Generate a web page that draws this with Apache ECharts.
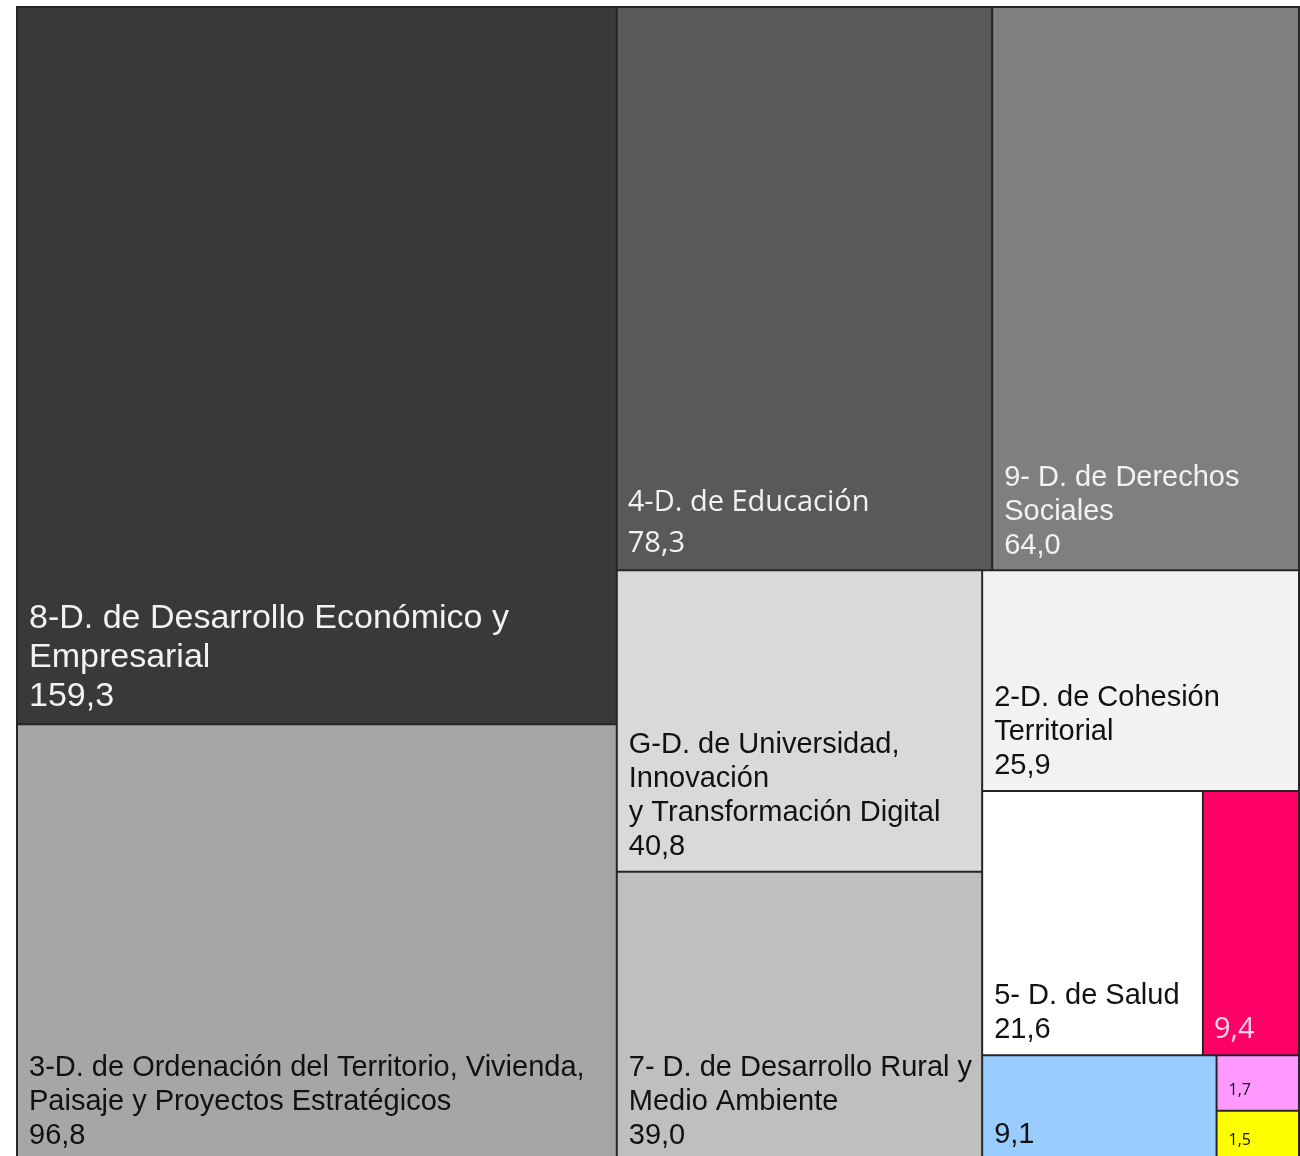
<!DOCTYPE html>
<html><head><meta charset="utf-8">
<script src="https://cdn.jsdelivr.net/npm/echarts@6/dist/echarts.min.js"></script>
<style>html,body{margin:0;padding:0;background:#fff}#c{width:1300px;height:1156px}</style>
</head><body><div id="c"></div>
<script>
// ---- data ----
const names = [
  '8-D. de Desarrollo Económico y\nEmpresarial',
  '3-D. de Ordenación del Territorio, Vivienda,\nPaisaje y Proyectos Estratégicos',
  '4-D. de Educación',
  '9- D. de Derechos\nSociales',
  'G-D. de Universidad,\nInnovación\ny Transformación Digital',
  '7- D. de Desarrollo Rural y\nMedio Ambiente',
  '2-D. de Cohesión\nTerritorial',
  '5- D. de Salud',
  '',
  '',
  '',
  ''
];
const values = [159.3, 96.8, 78.3, 64.0, 40.8, 39.0, 25.9, 21.6, 9.4, 9.1, 1.7, 1.5];
const fillColors = ['#3a3938', '#a6a6a6', '#595959', '#7f7f7f', '#d9d9d9', '#bfbfbf',
                    '#f2f2f2', '#ffffff', '#ff0066', '#99ccff', '#ff99ff', '#ffff00'];
const labelColors = ['#f2f2f2', '#111111', '#f2f2f2', '#f2f2f2', '#111111', '#111111',
                     '#111111', '#111111', '#ffd6e6', '#111111', '#111111', '#111111'];
// indices of items that sit side by side in one strip, as in the reference
const pairGroup = [7, 8];

// ---- styles ----
const ARIAL = 'Liberation Sans, Arial, sans-serif';
const OPEN = 'Open Sans, sans-serif';
function labelStyle(i) {
  let s = { fontFamily: ARIAL, fontSize: 29, lineHeight: 34, padding: [0, 0, 7, 11] };
  if (i === 0) s = { fontFamily: ARIAL, fontSize: 34, lineHeight: 39, padding: [0, 0, 7, 11] };
  if (i === 1 || i === 5) s.padding = [0, 0, 6, 11];
  if (i === 2) s = { fontFamily: OPEN, fontSize: 29, lineHeight: 41, padding: [0, 0, 5, 10] };
  if (i === 3) s.padding = [0, 0, 6, 11];
  if (i === 8) s = { fontFamily: OPEN, fontSize: 29, lineHeight: 36, padding: [0, 0, 6, 10] };
  if (i === 10 || i === 11) s = { fontFamily: OPEN, fontSize: 16, lineHeight: 20, padding: [0, 0, 9, 11] };
  return s;
}
const fmt = v => v.toFixed(1).replace('.', ',');

function leaf(i) {
  return {
    name: names[i],
    value: values[i],
    itemStyle: { color: fillColors[i] },
    label: Object.assign({
      show: true,
      position: 'insideBottomLeft',
      distance: 0,
      overflow: 'none',
      color: labelColors[i],
      formatter: p => (p.name ? p.name + '\n' : '') + fmt(p.value)
    }, labelStyle(i))
  };
}

const data = [];
for (let i = 0; i < values.length; i++) {
  if (i === pairGroup[0]) {
    data.push({
      name: ' ',
      value: pairGroup.reduce((a, k) => a + values[k], 0),
      itemStyle: { borderWidth: 0, gapWidth: 0, color: '#ffffff' },
      children: pairGroup.map(leaf)
    });
  } else if (pairGroup.indexOf(i) === -1) {
    data.push(leaf(i));
  }
}

const chart = echarts.init(document.getElementById('c'));
chart.setOption({
  animation: false,
  series: [{
    type: 'treemap',
    left: 16, top: 6, width: 1284, height: 1155,
    sort: false,
    squareRatio: 1,
    roam: false,
    nodeClick: false,
    breadcrumb: { show: false },
    itemStyle: { borderWidth: 1, borderColor: '#262626', gapWidth: 0 },
    upperLabel: { show: false },
    emphasis: { disabled: true },
    data: data
  }]
});
</script>
</body></html>
